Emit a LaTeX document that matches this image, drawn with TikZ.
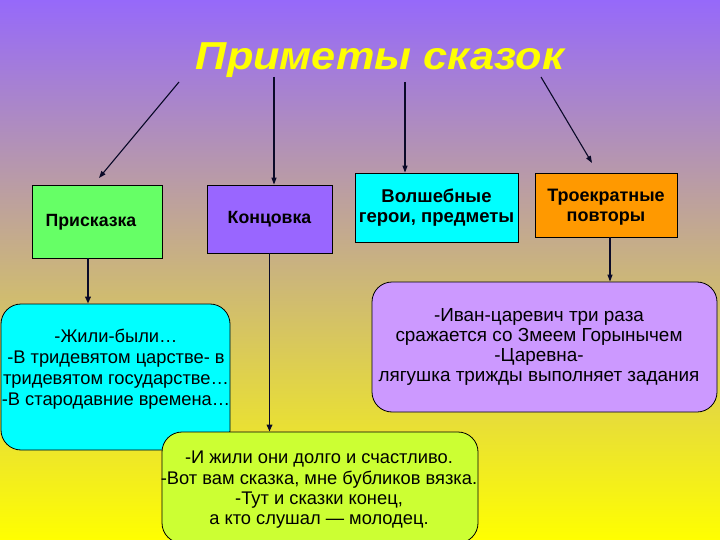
\documentclass[tikz,border=0pt]{standalone}
\usepackage{fontspec}
\usepackage{graphicx}
\setmainfont{Liberation Sans}
\usetikzlibrary{arrows.meta}
\definecolor{bgtop}{RGB}{150,105,250}
\definecolor{bgmid}{RGB}{215,195,172}
\definecolor{bgbot}{RGB}{255,255,0}
\definecolor{cgreen}{RGB}{102,255,102}
\definecolor{cpurple}{RGB}{153,102,255}
\definecolor{ccyan}{RGB}{0,255,255}
\definecolor{corange}{RGB}{255,153,0}
\definecolor{clilac}{RGB}{204,153,255}
\definecolor{cyg}{RGB}{204,255,51}
\definecolor{ctitle}{RGB}{255,255,0}
\definecolor{cline}{RGB}{10,10,40}
\tikzset{
  x=1pt, y=-1pt,
  topbox/.style={draw=black, line width=0.8pt, inner sep=0pt, align=center,
    font=\fontsize{17.7}{20}\selectfont\bfseries},
  toptext/.style={inner sep=0pt, align=center, font=\fontsize{17.7}{20}\selectfont\bfseries},
  roundbox/.style={draw=black, line width=0.8pt, rounded corners=20pt, inner sep=0pt},
  bodytext/.style={align=center, font=\fontsize{18.3}{21}\selectfont, inner sep=0pt},
  arr/.style={draw=cline, line width=1.1pt, -{Triangle[length=7pt,width=5pt]}},
  arrthick/.style={draw=cline, line width=1.8pt, -{Triangle[length=7pt,width=5.5pt]}}
}
\begin{document}
\begin{tikzpicture}
\useasboundingbox (0,0) rectangle (720,540);
\shade[top color=bgtop, middle color=bgmid, bottom color=bgbot] (0,0) rectangle (720,540);

\node[anchor=base, text=ctitle, inner sep=0pt, font=\fontsize{39}{44}\selectfont\bfseries\itshape] (title) at (380,70) {\scalebox{1.11}[1]{Приметы сказок}};

\node[topbox, fill=cgreen, minimum width=130pt, minimum height=73pt] (prisk) at (97,221.5) {};
\node[toptext] (prisktext) at (91,222) {Присказка};
\node[topbox, fill=cpurple, minimum width=125pt, minimum height=68pt] (konc) at (269.5,219) {Концовка};
\node[topbox, fill=ccyan, minimum width=163pt, minimum height=69pt, font=\fontsize{18.5}{20}\selectfont\bfseries] (volsh) at (436.5,207.5) {Волшебные\\герои, предметы};
\node[topbox, fill=corange, minimum width=142pt, minimum height=64pt] (troe) at (606,205) {};
\node[toptext, font=\fontsize{18}{20}\selectfont\bfseries] (troetext) at (606,207) {Троекратные\\повторы};

\node[roundbox, fill=ccyan, minimum width=229pt, minimum height=146pt] (zhili) at (115.5,377) {};
\node[bodytext] (zhilitext) at (116,369) {-Жили-были…\\-В тридевятом царстве- в\\тридевятом государстве…\\-В стародавние времена…};

\node[roundbox, fill=clilac, minimum width=345pt, minimum height=130pt] (ivan) at (544.5,347) {};
\node[bodytext, font=\fontsize{18.9}{20.3}\selectfont] (ivantext) at (539,347) {-Иван-царевич три раза\\ сражается со Змеем Горынычем\\-Царевна-\\лягушка трижды выполняет задания};

\node[roundbox, fill=cyg, minimum width=316pt, minimum height=111pt] (konec) at (320,487.5) {};
\node[bodytext, font=\fontsize{18.3}{20.3}\selectfont] (konectext) at (319,490) {-И жили они долго и счастливо.\\-Вот вам сказка, мне бубликов вязка.\\-Тут и сказки конец,\\а кто слушал — молодец.};

\coordinate (t1) at (179,82);
\coordinate (t2) at (274,77);
\coordinate (t3) at (405,82);
\coordinate (t4) at (541,77);
\coordinate (e1) at (99,178);
\coordinate (e4) at (592,163);

\draw[arr] (t1) -- (e1);
\draw[arr] (t2) -- (t2 |- konc.north) ;
\draw[arr] (t3) -- (t3 |- volsh.north);
\draw[arr] (t4) -- (e4);
\draw[arrthick] (prisk.south) ++(-9,0) coordinate (g1) -- (g1 |- zhili.north);
\draw[arrthick] (konc.south) -- (konc.south |- konec.north);
\draw[arr] (troe.south) ++(4,0) coordinate (o1) -- (o1 |- ivan.north);
\end{tikzpicture}
\end{document}
